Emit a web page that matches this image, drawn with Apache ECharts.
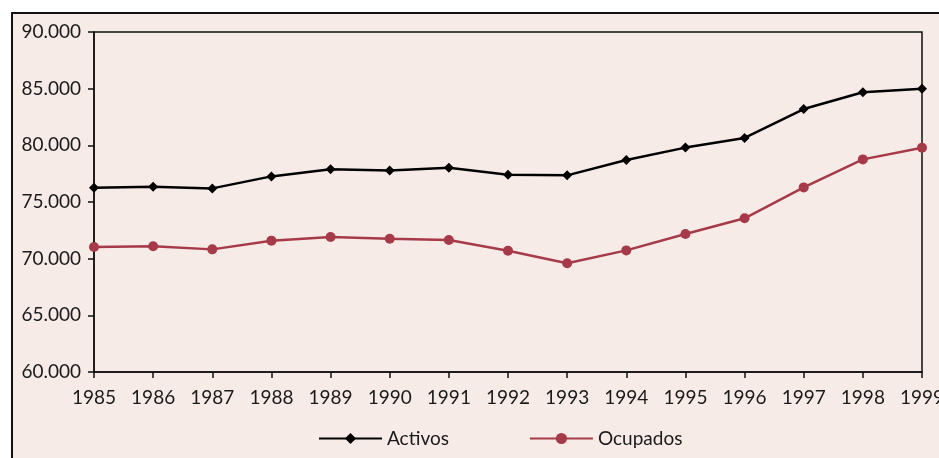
<!DOCTYPE html>
<html>
<head>
<meta charset="utf-8">
<script src="https://cdn.jsdelivr.net/npm/echarts@6/dist/echarts.min.js"></script>
<style>
html, body { margin: 0; padding: 0; background: #fff; overflow: hidden; }
#frame { position: absolute; left: 11px; top: 12px; width: 1000px; height: 500px;
         background: #f7ebe8; border: 2px solid #111; box-sizing: border-box; }
#chart { position: absolute; left: 0; top: 0; width: 939px; height: 458px; }
</style>
</head>
<body>
<div id="frame"></div>
<div id="chart"></div>
<script>
// datos (miles de personas)
var years = ['1985', '1986', '1987', '1988', '1989', '1990', '1991', '1992',
             '1993', '1994', '1995', '1996', '1997', '1998', '1999'];
var activos = [76250, 76350, 76200, 77260, 77880, 77790, 78030, 77410,
               77350, 78700, 79800, 80650, 83200, 84680, 85000];
var ocupados = [71030, 71090, 70820, 71590, 71910, 71760, 71650, 70700,
                69590, 70730, 72180, 73560, 76290, 78760, 79790];

var chart = echarts.init(document.getElementById('chart'));

function miles(v) {
    return String(v).replace(/\B(?=(\d{3})+(?!\d))/g, '.');
}

var option = {
    backgroundColor: 'transparent',
    textStyle: { fontFamily: 'Lato', color: '#1a1a1a' },
    grid: {
        left: 94, right: 17, top: 32, bottom: 86,
        outerBoundsMode: 'none',
        containLabel: false,
        show: true,
        borderColor: '#111',
        borderWidth: 1.5
    },
    legend: {
        left: 313,
        top: 424,
        itemWidth: 63,
        itemHeight: 14,
        itemGap: 80,
        textStyle: { fontSize: 19, color: '#1a1a1a', fontFamily: 'Lato' },
        data: ['Activos', 'Ocupados']
    },
    xAxis: {
        type: 'category',
        boundaryGap: false,
        data: years,
        axisLine: { lineStyle: { color: '#111', width: 1.5 } },
        axisTick: { show: true, length: 6, lineStyle: { color: '#111', width: 1.5 } },
        axisLabel: { fontSize: 19, color: '#1a1a1a', margin: 16 },
        splitLine: { show: false }
    },
    yAxis: {
        type: 'value',
        min: 60000,
        max: 90000,
        interval: 5000,
        axisLine: { show: true, lineStyle: { color: '#111', width: 1.5 } },
        axisTick: { show: true, length: 6, lineStyle: { color: '#111', width: 1.5 } },
        axisLabel: { fontSize: 19, color: '#1a1a1a', margin: 13, formatter: miles },
        splitLine: { show: false }
    },
    series: [
        {
            name: 'Activos',
            type: 'line',
            data: activos,
            symbol: 'diamond',
            symbolSize: 10,
            color: '#000',
            lineStyle: { width: 2.5, color: '#000' },
            itemStyle: { color: '#000' }
        },
        {
            name: 'Ocupados',
            type: 'line',
            data: ocupados,
            symbol: 'circle',
            symbolSize: 10,
            color: '#a63a48',
            lineStyle: { width: 2.5, color: '#a63a48' },
            itemStyle: { color: '#a63a48' }
        }
    ]
};

chart.setOption(option);
</script>
</body>
</html>
